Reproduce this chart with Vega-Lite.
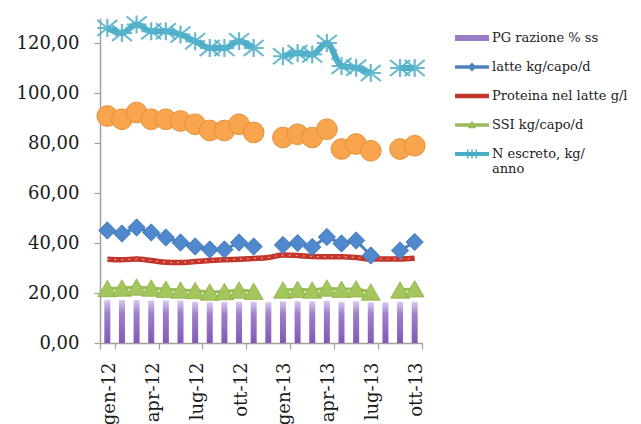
{
  "$schema": "https://vega.github.io/schema/vega-lite/v6.json",
  "width": 322,
  "height": 325,
  "autosize": "none",
  "padding": {"left": 100, "top": 18, "right": 219, "bottom": 81},
  "background": "white",
  "config": {
    "view": {"stroke": null},
    "axis": {
      "title": null,
      "grid": false,
      "labelFont": "DejaVu Serif",
      "labelColor": "#1a1a1a",
      "domainColor": "#a0a0a0",
      "domainWidth": 1.5,
      "tickColor": "#a0a0a0",
      "tickWidth": 1.2,
      "tickSize": 6
    }
  },
  "data": {
    "values": [
      {"m": "gen-12", "pg": 17.2, "latte": 45.0, "prot": 33.5, "ssi": 21.8, "ar": 90.8, "n": 126.0},
      {"m": "feb-12", "pg": 17.2, "latte": 43.8, "prot": 33.3, "ssi": 22.0, "ar": 89.5, "n": 124.0},
      {"m": "mar-12", "pg": 17.2, "latte": 46.2, "prot": 33.6, "ssi": 22.4, "ar": 92.2, "n": 127.4},
      {"m": "apr-12", "pg": 17.0, "latte": 44.2, "prot": 33.0, "ssi": 22.0, "ar": 89.5, "n": 124.7},
      {"m": "mag-12", "pg": 17.0, "latte": 42.2, "prot": 32.3, "ssi": 21.5, "ar": 89.5, "n": 124.7},
      {"m": "giu-12", "pg": 17.0, "latte": 40.2, "prot": 32.2, "ssi": 21.2, "ar": 88.8, "n": 123.4},
      {"m": "lug-12", "pg": 16.5, "latte": 38.6, "prot": 32.6, "ssi": 21.0, "ar": 87.5, "n": 120.7},
      {"m": "ago-12", "pg": 16.3, "latte": 37.4, "prot": 33.0, "ssi": 20.4, "ar": 85.0, "n": 118.0},
      {"m": "set-12", "pg": 16.5, "latte": 37.4, "prot": 33.3, "ssi": 20.6, "ar": 85.0, "n": 118.0},
      {"m": "ott-12", "pg": 16.5, "latte": 40.2, "prot": 33.5, "ssi": 21.2, "ar": 87.5, "n": 120.7},
      {"m": "nov-12", "pg": 16.5, "latte": 38.6, "prot": 33.8, "ssi": 20.7, "ar": 84.2, "n": 118.0},
      {"m": "dic-12", "pg": 16.3, "latte": null, "prot": 34.2, "ssi": null, "ar": null, "n": null},
      {"m": "gen-13", "pg": 16.7, "latte": 39.2, "prot": 35.2, "ssi": 21.2, "ar": 82.2, "n": 114.7},
      {"m": "feb-13", "pg": 16.7, "latte": 40.0, "prot": 35.0, "ssi": 21.5, "ar": 83.5, "n": 116.0},
      {"m": "mar-13", "pg": 16.7, "latte": 38.4, "prot": 34.6, "ssi": 21.2, "ar": 82.2, "n": 115.4},
      {"m": "apr-13", "pg": 16.8, "latte": 42.4, "prot": 34.5, "ssi": 22.0, "ar": 85.5, "n": 120.0},
      {"m": "mag-13", "pg": 16.5, "latte": 39.8, "prot": 34.5, "ssi": 21.5, "ar": 77.6, "n": 110.8},
      {"m": "giu-13", "pg": 16.7, "latte": 41.0, "prot": 34.2, "ssi": 21.7, "ar": 79.6, "n": 110.1},
      {"m": "lug-13", "pg": 16.3, "latte": 35.0, "prot": 33.6, "ssi": 20.4, "ar": 76.9, "n": 108.0},
      {"m": "ago-13", "pg": 16.3, "latte": null, "prot": 33.6, "ssi": null, "ar": null, "n": null},
      {"m": "set-13", "pg": 16.5, "latte": 37.0, "prot": 33.6, "ssi": 21.2, "ar": 77.6, "n": 110.0},
      {"m": "ott-13", "pg": 16.5, "latte": 40.4, "prot": 33.9, "ssi": 21.7, "ar": 78.9, "n": 110.0}
    ]
  },
  "encoding": {
    "x": {
      "field": "m",
      "type": "ordinal",
      "scale": {
        "domain": ["gen-12","feb-12","mar-12","apr-12","mag-12","giu-12","lug-12","ago-12","set-12","ott-12","nov-12","dic-12","gen-13","feb-13","mar-13","apr-13","mag-13","giu-13","lug-13","ago-13","set-13","ott-13"],
        "paddingInner": 0,
        "paddingOuter": 0
      },
      "axis": {
        "values": ["gen-12","apr-12","lug-12","ott-12","gen-13","apr-13","lug-13","ott-13"],
        "labelAngle": -90,
        "tickBand": "extent",
        "labelFontSize": 18,
        "labelPadding": 13,
        "labelOffset": 2
      }
    }
  },
  "layer": [
    {
      "mark": {
        "type": "bar",
        "width": 6,
        "color": {
          "gradient": "linear",
          "x1": 0, "y1": 0, "x2": 0, "y2": 1,
          "stops": [
            {"offset": 0, "color": "#d9cbee"},
            {"offset": 0.3, "color": "#9f80cc"},
            {"offset": 1, "color": "#8259b5"}
          ]
        }
      },
      "encoding": {
        "y": {
          "field": "pg",
          "type": "quantitative",
          "title": null,
          "scale": {"domain": [0, 130], "nice": false, "zero": true},
          "axis": {
            "values": [0, 20, 40, 60, 80, 100, 120],
            "labelExpr": "replace(format(datum.value, '.2f'), '.', ',')",
            "labelFontSize": 18,
            "labelPadding": 15
          }
        }
      }
    },
    {
      "mark": {"type": "line", "color": "#c3362c", "strokeWidth": 5.5, "invalid": "break-paths-filter-domains", "interpolate": "monotone"},
      "encoding": {"y": {"field": "prot", "type": "quantitative", "title": null}}
    },
    {
      "mark": {"type": "line", "color": "#f29a90", "strokeWidth": 1.2, "strokeDash": [2, 5], "invalid": "break-paths-filter-domains", "interpolate": "monotone"},
      "encoding": {"y": {"field": "prot", "type": "quantitative", "title": null}}
    },
    {
      "mark": {"type": "line", "color": "#4f81bd", "strokeWidth": 3, "invalid": "break-paths-filter-domains"},
      "encoding": {"y": {"field": "latte", "type": "quantitative", "title": null}}
    },
    {
      "mark": {"type": "point", "shape": "diamond", "filled": true, "size": 300, "fill": "#4f88cc", "stroke": "#3f73b3", "strokeWidth": 0.8, "opacity": 1},
      "encoding": {"y": {"field": "latte", "type": "quantitative", "title": null}}
    },
    {
      "mark": {"type": "line", "color": "#9bbb59", "strokeWidth": 3, "invalid": "break-paths-filter-domains"},
      "encoding": {"y": {"field": "ssi", "type": "quantitative", "title": null}}
    },
    {
      "mark": {"type": "point", "shape": "triangle-up", "filled": true, "size": 360, "fill": "#a3c75d", "stroke": "#8fb048", "strokeWidth": 0.8, "opacity": 1},
      "encoding": {"y": {"field": "ssi", "type": "quantitative", "title": null}}
    },
    {
      "mark": {"type": "point", "shape": "circle", "filled": true, "size": 430, "fill": "#f8a54e", "stroke": "#e48f37", "strokeWidth": 1, "opacity": 1},
      "encoding": {"y": {"field": "ar", "type": "quantitative", "title": null}}
    },
    {
      "mark": {"type": "line", "color": "#4bacc6", "strokeWidth": 6, "invalid": "break-paths-filter-domains", "interpolate": "monotone"},
      "encoding": {"y": {"field": "n", "type": "quantitative", "title": null}}
    },
    {
      "mark": {"type": "point", "shape": "M-1,-0.8L1,0.8M-1,0.8L1,-0.8M-1,0L1,0M0,-0.9L0,0.9", "filled": false, "size": 400, "stroke": "#57b3cc", "strokeWidth": 2.2, "opacity": 0.9},
      "encoding": {"y": {"field": "n", "type": "quantitative", "title": null}}
    },
    {
      "transform": [{"fold": ["pg", "latte", "prot", "ssi", "n"], "as": ["serie", "v"]}],
      "mark": {"type": "point", "filled": true, "size": 870, "opacity": 0},
      "encoding": {
        "y": {"field": "v", "type": "quantitative", "title": null},
        "color": {
          "field": "serie",
          "type": "nominal",
          "scale": {
            "domain": ["pg", "latte", "prot", "ssi", "n"],
            "range": ["#9a7bc8", "#4f81bd", "#c0392b", "#9bbb59", "#4bacc6"]
          },
          "legend": {
            "orient": "none",
            "legendX": 357,
            "legendY": 5,
            "title": null,
            "padding": 0,
            "rowPadding": 7,
            "labelOffset": 5,
            "labelLimit": 400,
            "labelFont": "DejaVu Serif",
            "labelFontSize": 13,
            "labelColor": "#222222",
            "symbolSize": 870,
            "symbolOpacity": 1,
            "symbolStrokeWidth": 0,
            "encode": {
              "symbols": {
                "update": {
                  "opacity": {"value": 1},
                  "fillOpacity": {"value": 1},
                  "strokeOpacity": {"value": 0}
                }
              }
            },
            "labelExpr": "datum.label == 'pg' ? 'PG razione % ss' : datum.label == 'latte' ? 'latte kg/capo/d' : datum.label == 'prot' ? 'Proteina nel latte g/l' : datum.label == 'ssi' ? 'SSI kg/capo/d' : ['N escreto, kg/', 'anno']"
          }
        },
        "shape": {
          "field": "serie",
          "type": "nominal",
          "scale": {
            "domain": ["pg", "latte", "prot", "ssi", "n"],
            "range": [
              "M-1.15,-0.2H1.15V0.2H-1.15Z",
              "M-1.15,-0.12H1.15V0.12H-1.15Z M-0.3,0L0,-0.3L0.3,0L0,0.3Z",
              "M-1.15,-0.16H1.15V0.16H-1.15Z",
              "M-1.15,-0.12H1.15V0.12H-1.15Z M-0.3,0.22L0,-0.3L0.3,0.22Z",
              "M-1.15,-0.13H1.15V0.13H-1.15Z M-0.34,-0.3H-0.24V0.3H-0.34Z M-0.05,-0.3H0.05V0.3H-0.05Z M0.24,-0.3H0.34V0.3H0.24Z"
            ]
          }
        }
      }
    }
  ]
}
